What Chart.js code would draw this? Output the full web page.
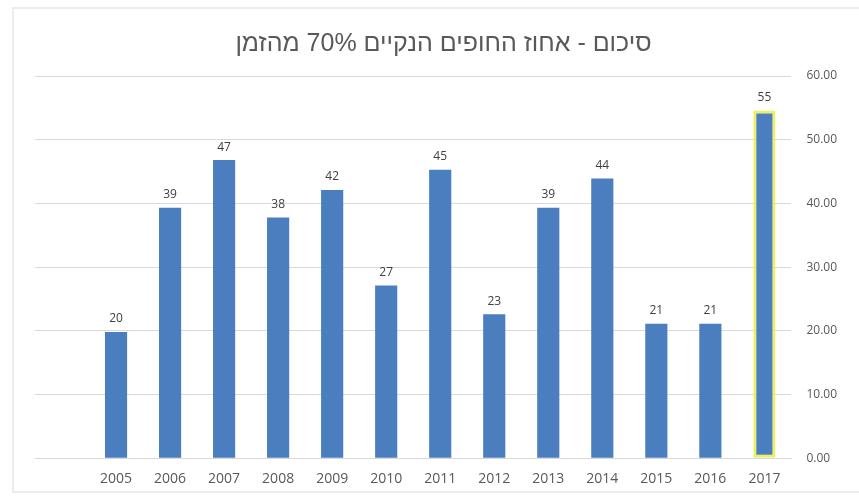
<!DOCTYPE html>
<html>
<head>
<meta charset="utf-8">
<script src="https://cdn.jsdelivr.net/npm/chart.js@4"></script>
<style>
  html, body { margin: 0; padding: 0; background: #fff; }
  .frame { position: absolute; left: 12px; top: 7px; width: 900px; height: 482px; border: 2px solid #ececec; }
  #wrap { position: absolute; left: 0; top: 0; width: 859px; height: 499px; }
</style>
</head>
<body>
<div class="frame"></div>
<div id="wrap"><canvas id="barChart" dir="rtl"></canvas></div>
<script>
// data - first category left empty like in the sheet
var years = ["", "2005", "2006", "2007", "2008", "2009", "2010", "2011", "2012", "2013", "2014", "2015", "2016", "2017"];
var cleanPct = [null, 19.8, 39.3, 46.8, 37.8, 42.1, 27.1, 45.3, 22.6, 39.3, 43.9, 21.1, 21.1, 54.6];
var yTicks = [0, 10, 20, 30, 40, 50, 60];
var titleText = "סיכום - אחוז החופים הנקיים 70% מהזמן";

var barBlue = '#4a7ebf';
var highlight = '#eef25a';

// value labels above bars
var valueLabels = {
  id: 'valueLabels',
  afterDatasetsDraw: function(chart) {
    var ctx = chart.ctx;
    var meta = chart.getDatasetMeta(0);
    ctx.save();
    ctx.direction = 'ltr';
    ctx.font = '12px "Open Sans", "DejaVu Sans", sans-serif';
    ctx.fillStyle = '#404040';
    ctx.textAlign = 'center';
    ctx.textBaseline = 'bottom';
    meta.data.forEach(function(bar, i) {
      var v = cleanPct[i];
      if (v === null) return;
      ctx.fillText(Math.round(v), bar.x, bar.y - 7);
    });
    ctx.restore();
  }
};

var ctx = document.getElementById("barChart").getContext('2d');
var myBarChart = new Chart(ctx, {
  type: 'bar',
  data: {
    labels: years,
    datasets: [{
      label: "אחוז",
      data: cleanPct,
      backgroundColor: barBlue,
      borderColor: years.map(function(y) { return y === "2017" ? highlight : barBlue; }),
      borderWidth: years.map(function(y) { return y === "2017" ? 3 : 0; }),
      borderSkipped: false,
      barPercentage: 0.41,
      categoryPercentage: 1
    }]
  },
  options: {
    responsive: true,
    maintainAspectRatio: false,
    animation: false,
    layout: { padding: { top: 0, right: 7, left: 35, bottom: 0 } },
    plugins: {
      legend: { display: false },
      tooltip: { enabled: false },
      title: {
        display: true,
        text: titleText,
        color: '#595959',
        font: { family: '"Liberation Sans", "DejaVu Sans", sans-serif', size: 25, weight: 'normal' },
        padding: { top: 29, bottom: 17 }
      }
    },
    scales: {
      x: {
        grid: { display: false, drawTicks: false },
        border: { display: true, color: '#d9d9d9', width: 1 },
        ticks: {
          color: '#595959',
          padding: 12,
          maxRotation: 0,
          font: { family: '"Open Sans", sans-serif', size: 14 }
        }
      },
      y: {
        position: 'right',
        min: 0,
        max: 60,
        afterBuildTicks: function(axis) {
          axis.ticks = yTicks.map(function(v) { return { value: v }; });
        },
        grid: { color: '#d9d9d9', drawTicks: false },
        border: { display: false },
        ticks: {
          color: '#595959',
          padding: 15,
          font: { family: '"Open Sans", sans-serif', size: 12 },
          callback: function(v) { return Number(v).toFixed(2); }
        }
      }
    }
  },
  plugins: [valueLabels]
});
</script>
</body>
</html>
